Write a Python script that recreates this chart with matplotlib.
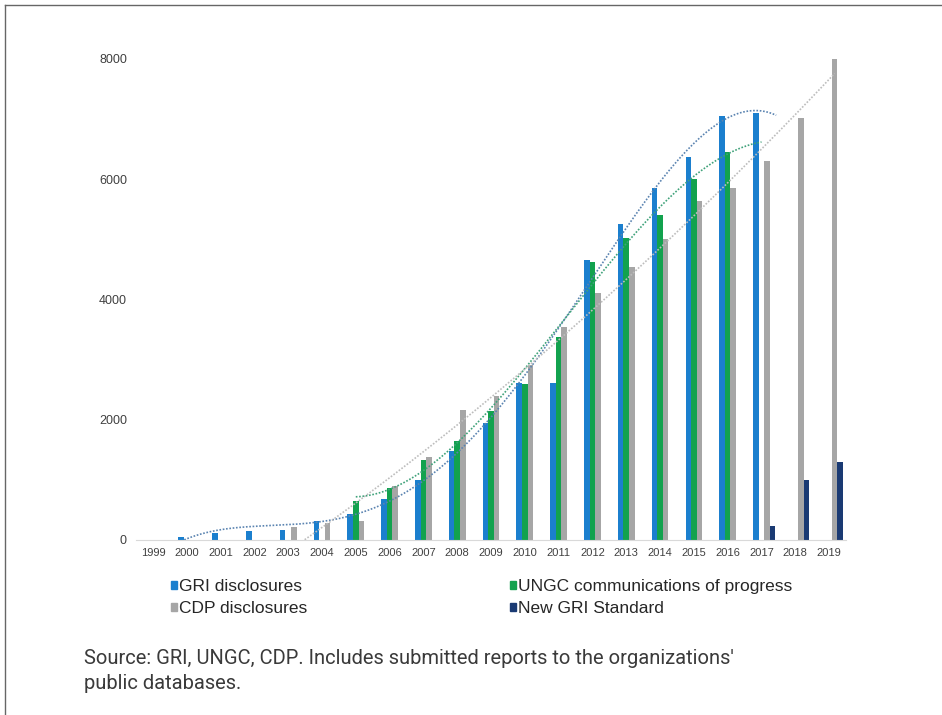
import numpy as np
import matplotlib
matplotlib.use('Agg')
import matplotlib.pyplot as plt
from matplotlib.patches import Patch
from matplotlib.lines import Line2D

nan = np.nan
years = list(range(1999, 2020))
gri = [nan, 50, 120, 150, 170, 310, 430, 680, 1000, 1485, 1950, 2615, 2615,
       4660, 5255, 5850, 6375, 7050, 7100, nan, nan]
ungc = [nan, nan, nan, nan, nan, nan, 640, 870, 1330, 1650, 2140, 2600, 3380,
        4630, 5020, 5410, 6000, 6450, nan, nan, nan]
cdp = [nan, nan, nan, nan, 220, 290, 320, 900, 1385, 2160, 2395, 2905, 3535,
       4100, 4535, 5000, 5630, 5860, 6300, 7020, 8000]
new_gri = [nan] * 18 + [240, 1000, 1300]

labels = ['GRI disclosures', 'UNGC communications of progress',
          'CDP disclosures', 'New GRI Standard']
colors = ['#1B7FCE', '#12A24E', '#A6A6A6', '#1A3A73']
trend_colors = ['#5B84B1', '#3FA27A', '#BDBDBD']
trend_deg = [4, 3, 2]
trend_fwd = [0.6, 1, 1]

plt.rcParams['font.family'] = ['Liberation Sans', 'DejaVu Sans']

fig = plt.figure(figsize=(9.42, 7.15), dpi=100)
ax = fig.add_axes([0.1444, 0.2448, 0.7537, 0.6727])

x = np.array(years, dtype=float)
w = 0.165
series = [gri, ungc, cdp, new_gri]
for i, s in enumerate(series):
    ax.bar(x + (i - 1) * w, s, width=w, color=colors[i], zorder=2)

# dotted polynomial trend lines
for i, s in enumerate(series[:3]):
    v = np.array(s, dtype=float)
    m = ~np.isnan(v)
    xs, ys = x[m] - x[m][0], v[m]
    p = np.polyfit(xs, ys, trend_deg[i])
    xx = np.linspace(0, min(xs[-1] + trend_fwd[i], 2019 - x[m][0]), 200)
    ax.plot(xx + x[m][0] + (i - 1) * w, np.polyval(p, xx), color=trend_colors[i],
            lw=1.2, ls=(0, (1, 1)), zorder=3)

ax.set_xlim(1998.5, 2019.5)
ax.set_ylim(0, 8000)
ax.set_yticks([0, 2000, 4000, 6000, 8000])
ax.set_xticks(years)
ax.set_xticklabels([str(y) for y in years])
ax.tick_params(axis='both', length=0, colors='#404040')
ax.tick_params(axis='y', pad=6.5, labelsize=9)
ax.tick_params(axis='x', pad=6, labelsize=8)
for sp in ['top', 'right', 'left']:
    ax.spines[sp].set_visible(False)
ax.spines['bottom'].set_color('#D9D9D9')

handles = [Patch(color=colors[0]), Patch(color=colors[2]),
           Patch(color=colors[1]), Patch(color=colors[3])]
hl = [labels[0], labels[2], labels[1], labels[3]]
fig.legend(handles, hl, ncol=2, loc='upper left', bbox_to_anchor=(0.1815, 0.190),
           frameon=False, fontsize=12.5, handlelength=0.35, handleheight=0.35,
           handletextpad=0.1, columnspacing=11.7, labelspacing=0.4,
           borderpad=0, borderaxespad=0, labelcolor='#262626')

fig.text(0.089, 0.031, "Source: GRI, UNGC, CDP. Includes submitted reports to the organizations'\npublic databases.",
         fontsize=14.5, family=['Roboto', 'DejaVu Sans'], color='#3A3A3A',
         linespacing=1.4, va='bottom', ha='left')

# frame lines at top and left
fig.add_artist(Line2D([0.005, 1.0], [0.993, 0.993], color='#666666', lw=1))
fig.add_artist(Line2D([0.005, 0.005], [0.0, 0.993], color='#666666', lw=1))

fig.savefig('out.png', dpi=100)
